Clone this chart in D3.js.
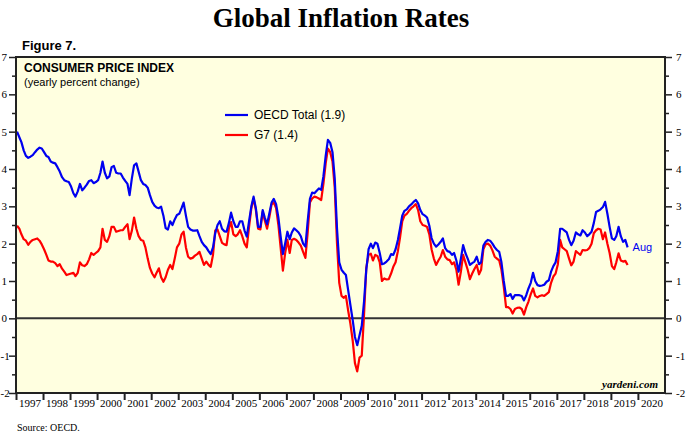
<!DOCTYPE html>
<html>
<head>
<meta charset="utf-8">
<script src="https://cdn.jsdelivr.net/npm/d3@7"></script>
<style>
  body { margin: 0; background: #fff; }
  svg { display: block; }
  .serif { font-family: "Liberation Serif", "Times New Roman", serif; }
  .sans { font-family: "Liberation Sans", Arial, sans-serif; }
</style>
</head>
<body>
<script>
// monthly yearly % change, Jan 1997 .. Aug 2019
var oecdTotal = [
  5.0, 4.85, 4.72, 4.5, 4.35, 4.3, 4.33, 4.37, 4.45, 4.52, 4.57, 4.55,   // 1997
  4.45, 4.35, 4.32, 4.2, 4.17, 4.15, 4.05, 3.93, 3.78, 3.7, 3.67, 3.65,   // 1998
  3.53, 3.35, 3.26, 3.4, 3.6, 3.43, 3.5, 3.58, 3.68, 3.7, 3.62, 3.65,     // 1999
  3.7, 3.9, 4.2, 3.9, 3.75, 3.8, 4.05, 4.08, 3.9, 3.88, 3.88, 3.77,       // 2000
  3.68, 3.6, 3.3, 3.75, 4.1, 4.15, 3.93, 3.7, 3.6, 3.57, 3.5, 3.3,        // 2001
  3.12, 3.02, 2.97, 2.95, 2.99, 2.75, 2.42, 2.38, 2.6, 2.5, 2.65, 2.77,   // 2002
  2.8, 2.95, 3.1, 2.75, 2.45, 2.38, 2.35, 2.35, 2.36, 2.2, 2.05, 1.96,    // 2003
  1.9, 1.8, 1.72, 1.9, 2.28, 2.5, 2.6, 2.4, 2.33, 2.32, 2.55, 2.83,       // 2004
  2.6, 2.45, 2.45, 2.6, 2.6, 2.35, 2.19, 2.6, 3.0, 3.26, 2.95, 2.45,      // 2005
  2.45, 2.9, 2.7, 2.52, 2.8, 3.1, 3.2, 3.06, 2.7, 2.2, 1.72, 2.0,         // 2006
  2.32, 2.12, 2.3, 2.41, 2.36, 2.3, 2.2, 2.0, 1.92, 2.59, 3.2, 3.37,      // 2007
  3.35, 3.42, 3.48, 3.44, 3.8, 4.35, 4.78, 4.7, 4.45, 3.75, 2.4, 1.5,     // 2008
  1.3, 1.22, 1.16, 0.75, 0.35, -0.05, -0.5, -0.72, -0.45, -0.2, 0.45, 1.3, // 2009
  1.85, 2.0, 1.88, 2.03, 2.0, 1.75, 1.45, 1.47, 1.52, 1.58, 1.72, 1.7,    // 2010
  1.85, 2.1, 2.4, 2.75, 2.88, 2.92, 3.0, 3.05, 3.12, 3.17, 3.08, 2.9,     // 2011
  2.79, 2.75, 2.7, 2.48, 2.15, 2.0, 1.92, 1.98, 2.05, 2.14, 1.88, 1.8,    // 2012
  1.78, 1.7, 1.75, 1.55, 1.25, 1.6, 1.96, 1.75, 1.6, 1.43, 1.48, 1.52,    // 2013
  1.65, 1.45, 1.5, 1.95, 2.05, 2.1, 2.08, 2.0, 1.9, 1.83, 1.78, 1.5,      // 2014
  1.0, 0.6, 0.6, 0.65, 0.52, 0.62, 0.62, 0.62, 0.6, 0.48, 0.62, 0.8,      // 2015
  0.95, 1.22, 1.0, 0.89, 0.87, 0.88, 0.9, 0.98, 1.02, 1.25, 1.4, 1.5,     // 2016
  1.8, 2.4, 2.4, 2.35, 2.3, 2.1, 1.96, 2.08, 2.3, 2.25, 2.22, 2.36,       // 2017
  2.3, 2.2, 2.25, 2.32, 2.55, 2.85, 2.88, 2.92, 2.98, 3.12, 2.8, 2.45,    // 2018
  2.14, 2.1, 2.2, 2.45, 2.2, 2.05, 2.1, 1.9                               // 2019
];

var g7 = [
  2.48, 2.4, 2.25, 2.12, 2.08, 1.97, 2.05, 2.1, 2.12, 2.14, 2.08, 1.98,   // 1997
  1.85, 1.7, 1.55, 1.52, 1.52, 1.48, 1.4, 1.45, 1.33, 1.25, 1.16, 1.18,   // 1998
  1.2, 1.22, 1.13, 1.22, 1.5, 1.42, 1.4, 1.45, 1.58, 1.75, 1.7, 1.75,     // 1999
  1.8, 1.9, 2.4, 2.1, 2.05, 2.2, 2.45, 2.45, 2.32, 2.34, 2.36, 2.36,      // 2000
  2.45, 2.52, 2.12, 2.35, 2.7, 2.4, 2.2, 2.1, 2.08, 1.9, 1.6, 1.35,       // 2001
  1.2, 1.1, 1.22, 1.34, 1.1, 0.98, 1.1, 1.3, 1.43, 1.32, 1.6, 1.9,        // 2002
  2.0, 2.25, 2.32, 1.9, 1.65, 1.6, 1.62, 1.68, 1.72, 1.78, 1.6, 1.43,     // 2003
  1.52, 1.43, 1.38, 1.7, 2.35, 2.38, 2.2, 2.02, 1.98, 1.96, 2.4, 2.58,    // 2004
  2.25, 2.2, 2.25, 2.36, 2.2, 2.0, 1.9, 2.45, 2.95, 3.21, 2.9, 2.4,       // 2005
  2.38, 2.85, 2.62, 2.4, 2.7, 3.05, 3.1, 2.95, 2.5, 1.9, 1.28, 1.74,      // 2006
  2.1, 1.75, 2.1, 2.13, 2.1, 2.03, 1.95, 1.78, 1.62, 2.28, 3.1, 3.21,     // 2007
  3.26, 3.24, 3.21, 3.17, 3.6, 4.15, 4.55, 4.45, 4.2, 3.5, 2.0, 0.95,     // 2008
  0.6, 0.55, 0.6, 0.2, -0.15, -0.6, -1.2, -1.42, -1.05, -1.0, 0.1, 1.35,  // 2009
  1.7, 1.73, 1.55, 1.7, 1.67, 1.5, 1.0, 1.07, 1.04, 1.05, 1.2, 1.38,      // 2010
  1.5, 1.8, 2.15, 2.6, 2.75, 2.8, 2.88, 2.95, 3.0, 3.06, 2.9, 2.6,        // 2011
  2.5, 2.48, 2.45, 2.25, 1.85, 1.6, 1.43, 1.55, 1.65, 1.83, 1.65, 1.58,   // 2012
  1.56, 1.45, 1.5, 1.3, 0.9, 1.25, 1.7, 1.5, 1.3, 1.05, 1.2, 1.32,        // 2013
  1.43, 1.18, 1.3, 1.85, 1.98, 2.0, 1.95, 1.82, 1.65, 1.6, 1.55, 1.3,     // 2014
  0.85, 0.3, 0.3, 0.25, 0.13, 0.25, 0.28, 0.29, 0.25, 0.1, 0.3, 0.45,     // 2015
  0.65, 0.8, 0.6, 0.56, 0.6, 0.62, 0.6, 0.65, 0.7, 0.95, 1.12, 1.2,       // 2016
  1.45, 2.1, 1.9, 1.85, 1.8, 1.6, 1.42, 1.52, 1.8, 1.75, 1.7, 1.83,       // 2017
  1.82, 1.83, 1.88, 2.0, 2.28, 2.36, 2.4, 2.38, 2.12, 2.3, 2.0, 1.75,     // 2018
  1.4, 1.32, 1.5, 1.74, 1.55, 1.52, 1.54, 1.43                            // 2019
];

var startYear = 1997;
var endYear = 2021;
var yTicks = [-2, -1, 0, 1, 2, 3, 4, 5, 6, 7];
var seriesNames = ["OECD Total (1.9)", "G7 (1.4)"];
var seriesColors = ["#0000f0", "#ff0000"];

var w = 698, h = 442;
var margin = { top: 57, left: 16, right: 33, bottom: 49 };

var svg = d3.select("body").append("svg")
    .attr("width", w)
    .attr("height", h);

var x = d3.scaleTime()
    .domain([new Date(startYear, 0, 1), new Date(endYear, 0, 1)])
    .range([margin.left, w - margin.right]);

var y = d3.scaleLinear()
    .domain([-2, 7])
    .range([h - margin.bottom, margin.top]);

var x0 = x.range()[0], x1 = x.range()[1];
var y0 = y.range()[0], y1 = y.range()[1];

// title
svg.append("text")
    .attr("class", "serif")
    .attr("x", 341)
    .attr("y", 27)
    .attr("text-anchor", "middle")
    .style("font-size", "27px")
    .style("font-weight", "bold")
    .text("Global Inflation Rates");

svg.append("text")
    .attr("class", "sans")
    .attr("x", 22)
    .attr("y", 50)
    .style("font-size", "13px")
    .style("font-weight", "bold")
    .text("Figure 7.");

// plot background
svg.append("rect")
    .attr("x", x0)
    .attr("y", y1)
    .attr("width", x1 - x0)
    .attr("height", y0 - y1)
    .attr("fill", "#ffffe0");

// zero line
svg.append("line")
    .attr("x1", x0).attr("x2", x1)
    .attr("y1", y(0)).attr("y2", y(0))
    .attr("stroke", "#333")
    .attr("stroke-width", 2);

// series
var months = d3.range(oecdTotal.length).map(function(i) {
    return new Date(startYear, i, 15);
});

var line = d3.line()
    .x(function(d, i) { return x(months[i]); })
    .y(function(d) { return y(d); });

[g7, oecdTotal].forEach(function(s, k) {
    svg.append("path")
        .datum(s)
        .attr("fill", "none")
        .attr("stroke", k === 0 ? seriesColors[1] : seriesColors[0])
        .attr("stroke-width", 2.2)
        .attr("stroke-linejoin", "round")
        .attr("d", line);
});

// axes: left & right with major + minor ticks
var minorTicks = d3.range(-1.5, 7, 1);
var fmt = function(d) { return d < 0 ? "-" + Math.abs(d) : String(d); };

function styleAxis(g) {
    g.select(".domain").remove();
    g.selectAll(".tick line").attr("stroke", "#222").attr("stroke-width", 1.5);
    g.selectAll("text")
        .attr("class", "serif")
        .style("font-size", "11px")
        .attr("fill", "#000");
}

var leftAxis = svg.append("g")
    .attr("transform", "translate(" + x0 + ",0)")
    .call(d3.axisLeft(y).tickValues(yTicks).tickSize(7).tickPadding(2).tickFormat(fmt))
    .call(styleAxis);

// negative labels on the left edge: keep them inside the page
leftAxis.selectAll(".tick text")
    .filter(function(d) { return d < 0; })
    .attr("text-anchor", "start")
    .attr("x", -x0 + 0.5);

svg.append("g")
    .attr("transform", "translate(" + x0 + ",0)")
    .call(d3.axisLeft(y).tickValues(minorTicks).tickSize(4).tickFormat(""))
    .call(styleAxis);

svg.append("g")
    .attr("transform", "translate(" + x1 + ",0)")
    .call(d3.axisRight(y).tickValues(yTicks).tickSize(7).tickPadding(4).tickFormat(fmt))
    .call(styleAxis);
svg.append("g")
    .attr("transform", "translate(" + x1 + ",0)")
    .call(d3.axisRight(y).tickValues(minorTicks).tickSize(4).tickFormat(""))
    .call(styleAxis);

// bottom axis: year boundary ticks + centered labels
var years = d3.range(startYear, endYear);

svg.append("g")
    .attr("transform", "translate(0," + y0 + ")")
    .call(d3.axisBottom(x).tickValues(years.map(function(yr) { return new Date(yr, 0, 1); }))
        .tickSize(7).tickFormat(""))
    .call(styleAxis)
    .selectAll(".tick line").attr("stroke-width", 2);

svg.append("g")
    .attr("transform", "translate(0," + y0 + ")")
    .call(d3.axisBottom(x).tickValues(years.map(function(yr) { return new Date(yr, 6, 2); }))
        .tickSize(0).tickPadding(6).tickFormat(d3.timeFormat("%Y")))
    .call(styleAxis);

// frame
svg.append("path")
    .attr("d", "M" + x0 + "," + y0 + "V" + y1 + "H" + x1 + "V" + y0 + "H" + x0)
    .attr("fill", "none")
    .attr("stroke", "#222")
    .attr("stroke-width", 2);

// headings inside plot
svg.append("text")
    .attr("class", "sans")
    .attr("x", 24)
    .attr("y", 72)
    .style("font-size", "12px")
    .style("font-weight", "bold")
    .text("CONSUMER PRICE INDEX");

svg.append("text")
    .attr("class", "sans")
    .attr("x", 24)
    .attr("y", 86)
    .style("font-size", "11px")
    .text("(yearly percent change)");

// legend
var legend = svg.append("g").attr("transform", "translate(225,115)");
seriesNames.forEach(function(name, i) {
    legend.append("line")
        .attr("x1", 0).attr("x2", 23)
        .attr("y1", i * 20).attr("y2", i * 20)
        .attr("stroke", seriesColors[i])
        .attr("stroke-width", 2.2);
    legend.append("text")
        .attr("class", "sans")
        .attr("x", 29)
        .attr("y", i * 20 + 4)
        .style("font-size", "12px")
        .text(name);
});

// end label
svg.append("text")
    .attr("class", "sans")
    .attr("x", x(months[months.length - 1]) + 5)
    .attr("y", y(oecdTotal[oecdTotal.length - 1]) + 4)
    .style("font-size", "11px")
    .attr("fill", seriesColors[0])
    .text("Aug");

svg.append("text")
    .attr("class", "serif")
    .attr("x", 658)
    .attr("y", 388)
    .attr("text-anchor", "end")
    .style("font-size", "11px")
    .style("font-weight", "bold")
    .style("font-style", "italic")
    .text("yardeni.com");

svg.append("text")
    .attr("class", "serif")
    .attr("x", 17)
    .attr("y", 431)
    .style("font-size", "10px")
    .text("Source: OECD.");
</script>
</body>
</html>
